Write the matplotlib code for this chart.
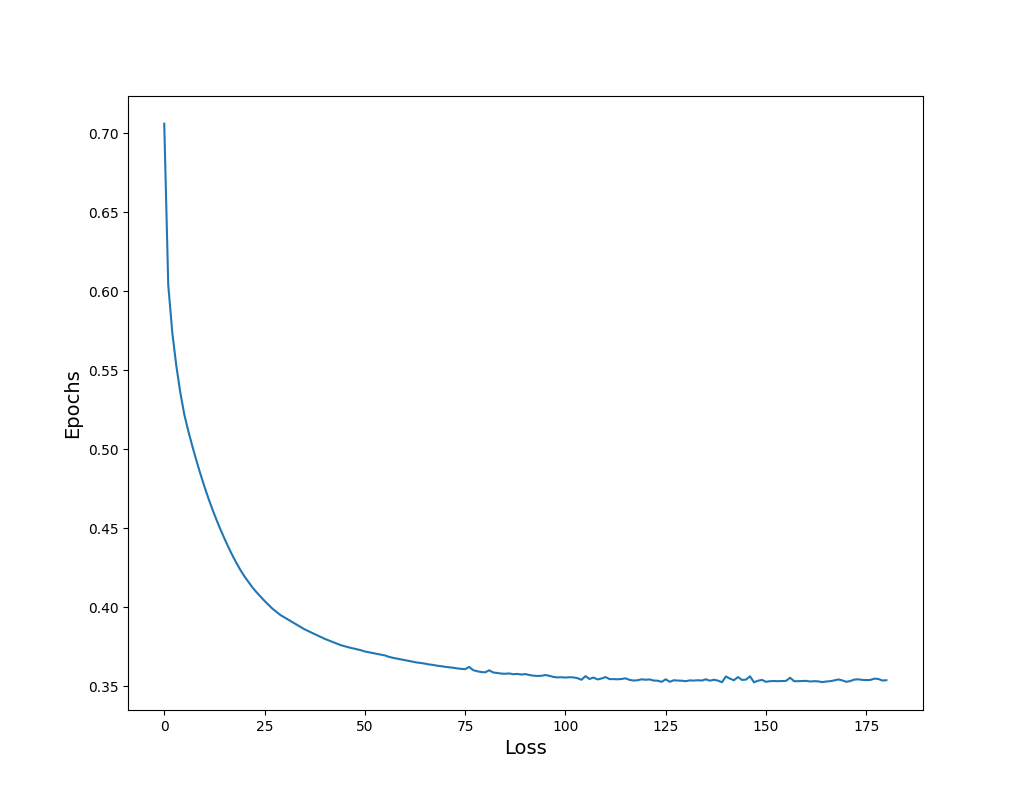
import matplotlib
matplotlib.use("Agg")
from matplotlib import pyplot as plt

# loss per epoch
loss = [
    0.706, 0.604, 0.574, 0.553, 0.536, 0.522, 0.5115, 0.502, 0.493, 0.4845,
    0.4765, 0.469, 0.462, 0.4555, 0.4493, 0.4435, 0.438, 0.4328, 0.428, 0.4235,
    0.4195, 0.416, 0.4125, 0.4095, 0.4067, 0.404, 0.4015, 0.399, 0.397, 0.395,
    0.3935, 0.392, 0.3905, 0.389, 0.3875, 0.386, 0.3848, 0.3836, 0.3824, 0.3812,
    0.38, 0.379, 0.378, 0.377, 0.376, 0.3753, 0.3746, 0.374, 0.3734, 0.3728,
    0.372, 0.3715, 0.371, 0.3705, 0.370, 0.3695, 0.3686, 0.368, 0.3675, 0.367,
    0.3665, 0.366, 0.3655, 0.365, 0.3647, 0.3643, 0.3638, 0.3635, 0.363, 0.3627,
    0.3623, 0.362, 0.3617, 0.3613, 0.361, 0.3608, 0.3622, 0.3602, 0.3595, 0.359,
    0.3588, 0.3601, 0.3587, 0.3584, 0.358, 0.3579, 0.3581, 0.3576, 0.3578, 0.3574,
    0.3577, 0.3571, 0.3567, 0.3565, 0.3566, 0.3571, 0.3566, 0.3559, 0.3556, 0.3557,
    0.3555, 0.3557, 0.3556, 0.3551, 0.3541, 0.3564, 0.3546, 0.3555, 0.3543, 0.3549,
    0.3558, 0.3545, 0.3545, 0.3544, 0.3546, 0.355, 0.354, 0.3536, 0.3538, 0.3544,
    0.3541, 0.3543, 0.3536, 0.3535, 0.3528, 0.3544, 0.3528, 0.3538, 0.3536, 0.3535,
    0.3532, 0.3537, 0.3536, 0.3538, 0.3536, 0.3544, 0.3535, 0.3541, 0.3536, 0.3525,
    0.3562, 0.3548, 0.3538, 0.3558, 0.354, 0.3542, 0.3563, 0.3525, 0.3535, 0.354,
    0.3528, 0.3532, 0.3533, 0.3532, 0.3533, 0.3534, 0.3554, 0.3532, 0.3532, 0.3533,
    0.3534, 0.353, 0.3532, 0.3531, 0.3526, 0.353, 0.3532, 0.3537, 0.3543, 0.3537,
    0.3528, 0.3533, 0.3542, 0.3544, 0.354, 0.3539, 0.354, 0.3548, 0.3546, 0.3536,
    0.3538,
]
epochs = list(range(len(loss)))

plt.figure(figsize=(10.25, 7.98), dpi=100)
plt.plot(epochs, loss)
plt.xlabel('Loss', fontsize=14)
plt.ylabel('Epochs', fontsize=14)

plt.savefig('out.png', dpi=100)
